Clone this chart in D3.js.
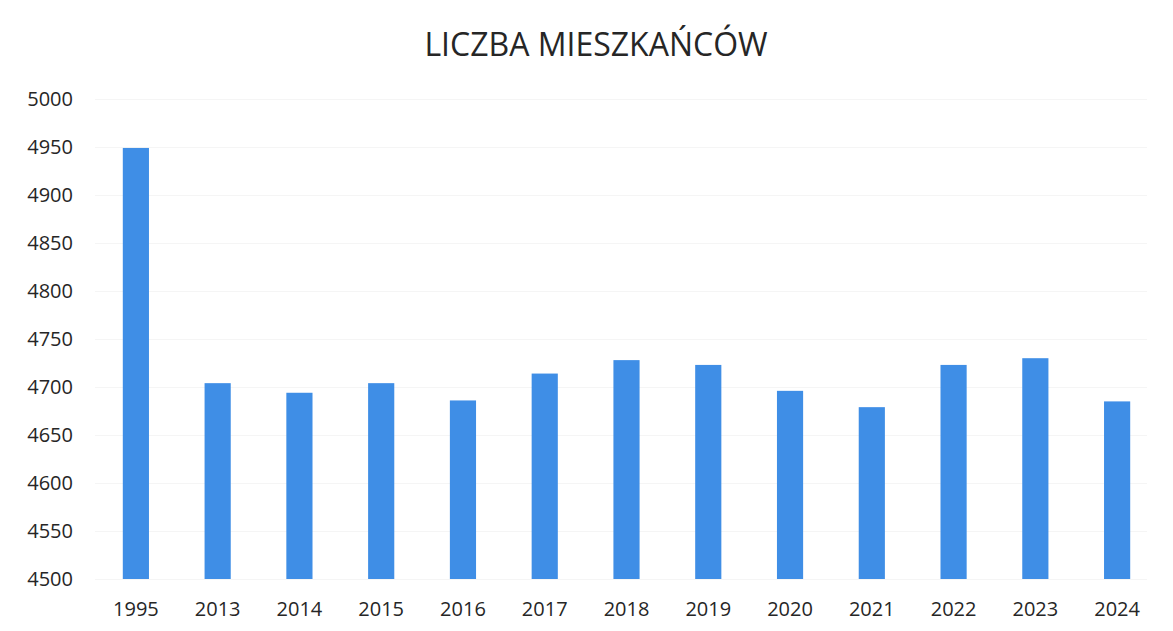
<!DOCTYPE html>
<html>
<head>
<meta charset="utf-8">
<script src="https://cdn.jsdelivr.net/npm/d3@7"></script>
<style>
  body { margin: 0; background: #fff; }
  text { font-family: "Open Sans", sans-serif; fill: #262626; }
</style>
</head>
<body>
<div id="chart"></div>
<script>
/* Bar chart: liczba mieszkańców */

const years = ["1995", "2013", "2014", "2015", "2016", "2017", "2018", "2019", "2020", "2021", "2022", "2023", "2024"];
const residents = [4949, 4704, 4694, 4704, 4686, 4714, 4728, 4723, 4696, 4679, 4723, 4730, 4685];
const yTicks = [4500, 4550, 4600, 4650, 4700, 4750, 4800, 4850, 4900, 4950, 5000];

const width = 1173,
  height = 631,
  margin = {top: 99, right: 15, bottom: 52, left: 95};

const x = d3.scaleBand()
  .domain(years)
  .range([margin.left, width - margin.right])
  .paddingInner(0.68)
  .paddingOuter(0.34);

const y = d3.scaleLinear()
  .domain([4500, 5000])
  .range([height - margin.bottom, margin.top]);

const svg = d3.select("#chart")
  .append("svg")
  .attr("width", width)
  .attr("height", height);

// gridlines, almost invisible in the original
svg.append("g")
  .attr("stroke", "#f5f5f5")
  .attr("stroke-width", 1)
  .selectAll("line")
  .data(yTicks)
  .join("line")
  .attr("x1", margin.left)
  .attr("x2", width - 26)
  .attr("y1", d => y(d) + 0.5)
  .attr("y2", d => y(d) + 0.5);

svg.append("g")
  .attr("fill", "#3f8ee6")
  .selectAll("rect")
  .data(residents)
  .join("rect")
  .attr("x", (d, i) => x(years[i]))
  .attr("width", x.bandwidth())
  .attr("y", d => y(d))
  .attr("height", d => y(4500) - y(d));

const yAxis = svg.append("g")
  .attr("transform", `translate(${margin.left - 22},0)`)
  .call(d3.axisLeft(y).tickValues(yTicks).tickFormat(d3.format("d")).tickSize(0).tickPadding(0));
yAxis.select(".domain").remove();
yAxis.selectAll("text").attr("font-size", 20).style("font-family", "'Open Sans', sans-serif");

const xAxis = svg.append("g")
  .attr("transform", `translate(0,${height - margin.bottom})`)
  .call(d3.axisBottom(x).tickSize(0).tickPadding(23));
xAxis.select(".domain").remove();
xAxis.selectAll("text").attr("font-size", 20).style("font-family", "'Open Sans', sans-serif");

svg.append("text")
  .attr("x", 596)
  .attr("y", 56)
  .attr("text-anchor", "middle")
  .attr("font-size", 32)
  .text("LICZBA MIESZKAŃCÓW");
</script>
</body>
</html>
